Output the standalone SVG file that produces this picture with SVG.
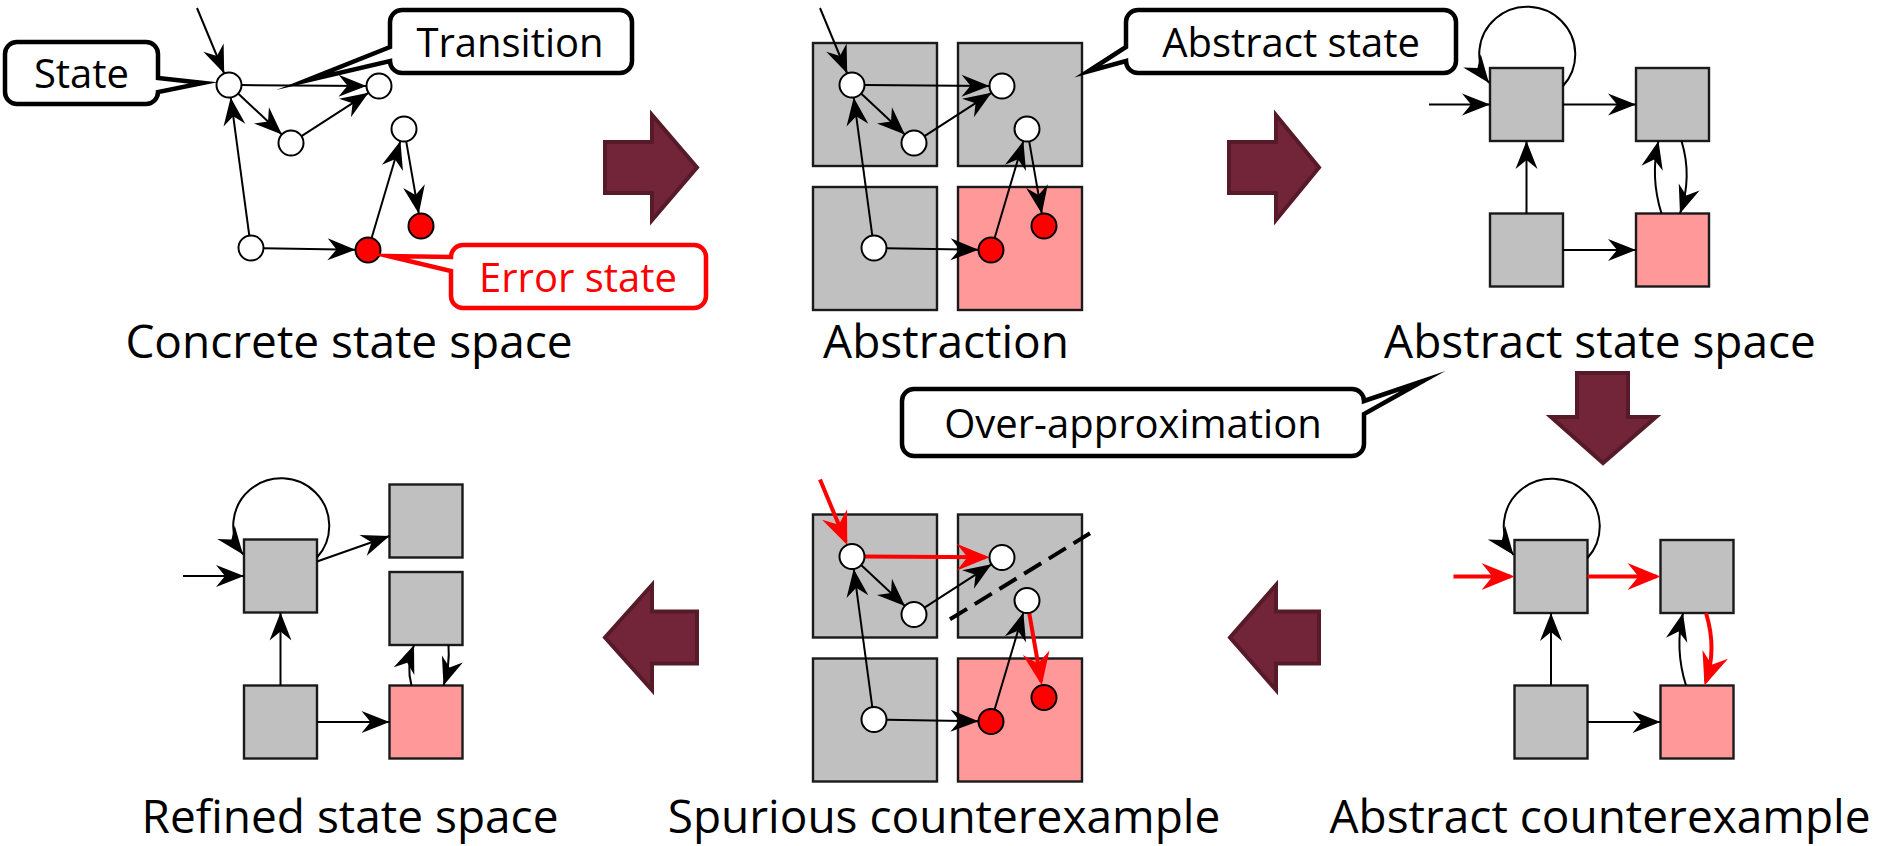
<svg xmlns="http://www.w3.org/2000/svg" width="1897" height="846" viewBox="0 0 1897 846">
  <defs>
    <marker id="ah" viewBox="-30 -13 32 26" refX="0" refY="0" markerWidth="32" markerHeight="26" markerUnits="userSpaceOnUse" orient="auto">
      <path d="M0,0 L-28,-11 L-19,0 L-28,11 Z" fill="#000"/>
    </marker>
    <marker id="ahr" viewBox="-36 -16 42 32" refX="-4" refY="0" markerWidth="42" markerHeight="32" markerUnits="userSpaceOnUse" orient="auto">
      <path d="M0,0 L-33,-13.5 L-22,0 L-33,13.5 Z" fill="#f00"/>
    </marker>
    <style>
      .lbl { font-family: "Open Sans", "Liberation Sans", sans-serif; font-size: 46px; fill: #000; text-anchor: middle; }
      .ctext { font-family: "Open Sans", "Liberation Sans", sans-serif; font-size: 40px; fill: #000; text-anchor: middle; }
      .callout { fill: #fff; stroke: #000; stroke-width: 4.5; stroke-linejoin: miter; stroke-miterlimit: 20; }
      .callout-err { fill: #fff; stroke: #f00; stroke-width: 4.5; stroke-linejoin: miter; stroke-miterlimit: 20; }
      .box { fill: #c0c0c0; stroke: #1a1a1a; stroke-width: 2.4; }
      .err { fill: #ff9999; stroke: #1a1a1a; stroke-width: 2.4; }
      .st { fill: #fff; stroke: #000; stroke-width: 2; }
      .st-err { fill: #f00; stroke: #000; stroke-width: 2; }
      .e { fill: none; stroke: #000; stroke-width: 2; marker-end: url(#ah); }
      .er { fill: none; stroke: #f00; stroke-width: 4; marker-end: url(#ahr); }
      .cut { fill: none; stroke: #000; stroke-width: 4; stroke-dasharray: 20 9; }
      .step { fill: #722438; stroke: #561a29; stroke-width: 4; }
    </style>
  </defs>
  <rect width="1897" height="846" fill="#fff"/>

  <!-- Step arrows between the stages -->
  <g id="steps">
    <polygon class="step" points="605,142 652,142 652,115 697,167.5 652,220 652,193 605,193"/>
    <polygon class="step" points="1229,142 1276,142 1276,115 1319,167.5 1276,220 1276,193 1229,193"/>
    <polygon class="step" points="1577,373 1628,373 1628,417 1656,417 1603,463 1551,417 1577,417"/>
    <polygon class="step" points="1319,611.5 1276,611.5 1276,585 1230,637.5 1276,690 1276,663.5 1319,663.5"/>
    <polygon class="step" points="697,611.5 652,611.5 652,585 605,637.5 652,690 652,663.5 697,663.5"/>
  </g>

  <!-- Concrete state space -->
  <g id="concrete">
    <g id="concrete-edges">
      <path class="e" d="M197,8 L224.2,73.5"/>
      <path class="e" d="M241.5,85.1 L366.5,85.9"/>
      <path class="e" d="M238.1,93.5 L281.9,134.5"/>
      <path class="e" d="M301.5,136.2 L368.5,92.8"/>
      <path class="e" d="M249.3,235.6 L230.7,97.4"/>
      <path class="e" d="M263.5,248.2 L355.5,249.8"/>
      <path class="e" d="M371.6,238 L400.4,141"/>
      <path class="e" d="M406.2,141.3 L418.8,213.7"/>
    </g>
    <g id="c-a"><circle class="st" cx="229" cy="85" r="12.5"/></g>
    <g id="c-b"><circle class="st" cx="379" cy="86" r="12.5"/></g>
    <g id="c-c"><circle class="st" cx="291" cy="143" r="12.5"/></g>
    <g id="c-d"><circle class="st" cx="404" cy="129" r="12.5"/></g>
    <g id="c-e"><circle class="st-err" cx="421" cy="226" r="12.5"/></g>
    <g id="c-f"><circle class="st-err" cx="368" cy="250" r="12.5"/></g>
    <g id="c-g"><circle class="st" cx="251" cy="248" r="12.5"/></g>
  </g>

  <!-- Abstraction: states grouped into abstract states -->
  <g id="abstraction" transform="translate(623,0)">
    <g id="a-box-tl"><rect class="box" x="190" y="43" width="124" height="123"/></g>
    <g id="a-box-tr"><rect class="box" x="335" y="43" width="124" height="123"/></g>
    <g id="a-box-bl"><rect class="box" x="190" y="187" width="124" height="123"/></g>
    <g id="a-box-br"><rect class="err" x="335" y="187" width="124" height="123"/></g>
    <g id="abstraction-edges">
      <path class="e" d="M197,8 L224.2,73.5"/>
      <path class="e" d="M241.5,85.1 L366.5,85.9"/>
      <path class="e" d="M238.1,93.5 L281.9,134.5"/>
      <path class="e" d="M301.5,136.2 L368.5,92.8"/>
      <path class="e" d="M249.3,235.6 L230.7,97.4"/>
      <path class="e" d="M263.5,248.2 L355.5,249.8"/>
      <path class="e" d="M371.6,238 L400.4,141"/>
      <path class="e" d="M406.2,141.3 L418.8,213.7"/>
    </g>
    <g id="a-a"><circle class="st" cx="229" cy="85" r="12.5"/></g>
    <g id="a-b"><circle class="st" cx="379" cy="86" r="12.5"/></g>
    <g id="a-c"><circle class="st" cx="291" cy="143" r="12.5"/></g>
    <g id="a-d"><circle class="st" cx="404" cy="129" r="12.5"/></g>
    <g id="a-e"><circle class="st-err" cx="421" cy="226" r="12.5"/></g>
    <g id="a-f"><circle class="st-err" cx="368" cy="250" r="12.5"/></g>
    <g id="a-g"><circle class="st" cx="251" cy="248" r="12.5"/></g>
  </g>

  <!-- Abstract state space -->
  <g id="abstract">
    <g id="s-tl"><rect class="box" x="1490" y="68" width="73" height="73"/></g>
    <g id="s-tr"><rect class="box" x="1636" y="68" width="73" height="73"/></g>
    <g id="s-bl"><rect class="box" x="1490" y="213.5" width="73" height="73"/></g>
    <g id="s-br"><rect class="err" x="1636" y="213.5" width="73" height="73"/></g>
    <g id="abstract-edges">
      <path class="e" d="M1429,104.5 L1490,104.5"/>
      <path class="e" d="M1563,104.5 L1636,104.5"/>
      <path class="e" d="M1563,250 L1636,250"/>
      <path class="e" d="M1526.5,213.5 L1526.5,141"/>
      <path class="e" d="M1563,86 A48,47.5 0 1 0 1489,83"/>
      <path class="e" d="M1661.5,213.5 Q1650,177 1658.5,141"/>
      <path class="e" d="M1681.5,141 Q1692.6,177 1680,213.5"/>
    </g>
  </g>

  <!-- Abstract counterexample -->
  <g id="abstract-cex" transform="translate(24.5,472)">
    <g id="x-tl"><rect class="box" x="1490" y="68" width="73" height="73"/></g>
    <g id="x-tr"><rect class="box" x="1636" y="68" width="73" height="73"/></g>
    <g id="x-bl"><rect class="box" x="1490" y="213.5" width="73" height="73"/></g>
    <g id="x-br"><rect class="err" x="1636" y="213.5" width="73" height="73"/></g>
    <g id="abstract-cex-edges">
      <path class="er" d="M1429,104.5 L1486,104.5"/>
      <path class="er" d="M1563,104.5 L1632,104.5"/>
      <path class="e" d="M1563,250 L1636,250"/>
      <path class="e" d="M1526.5,213.5 L1526.5,141"/>
      <path class="e" d="M1563,86 A48,47.5 0 1 0 1489,83"/>
      <path class="e" d="M1661.5,213.5 Q1650,177 1658.5,141"/>
      <path class="er" d="M1681.5,141 Q1692.6,177 1681.3,209.7"/>
    </g>
  </g>

  <!-- Spurious counterexample -->
  <g id="spurious" transform="translate(623,471.5)">
    <g id="p-box-tl"><rect class="box" x="190" y="43" width="124" height="123"/></g>
    <g id="p-box-tr"><rect class="box" x="335" y="43" width="124" height="123"/></g>
    <g id="p-box-bl"><rect class="box" x="190" y="187" width="124" height="123"/></g>
    <g id="p-box-br"><rect class="err" x="335" y="187" width="124" height="123"/></g>
    <g id="spurious-edges">
      <path class="cut" d="M327,147.8 L467,61.8"/>
      <path class="er" d="M197,8 L222.7,69.8"/>
      <path class="er" d="M241.5,85.1 L362.5,85.8"/>
      <path class="e" d="M238.1,93.5 L281.9,134.5"/>
      <path class="e" d="M301.5,136.2 L368.5,92.8"/>
      <path class="e" d="M249.3,235.6 L230.7,97.4"/>
      <path class="e" d="M263.5,248.2 L355.5,249.8"/>
      <path class="e" d="M371.6,238 L400.4,141"/>
      <path class="er" d="M406.2,141.3 L418.1,209.8"/>
    </g>
    <g id="p-a"><circle class="st" cx="229" cy="85" r="12.5"/></g>
    <g id="p-b"><circle class="st" cx="379" cy="86" r="12.5"/></g>
    <g id="p-c"><circle class="st" cx="291" cy="143" r="12.5"/></g>
    <g id="p-d"><circle class="st" cx="404" cy="129" r="12.5"/></g>
    <g id="p-e"><circle class="st-err" cx="421" cy="226" r="12.5"/></g>
    <g id="p-f"><circle class="st-err" cx="368" cy="250" r="12.5"/></g>
    <g id="p-g"><circle class="st" cx="251" cy="248" r="12.5"/></g>
  </g>

  <!-- Refined state space -->
  <g id="refined">
    <g id="r-tl"><rect class="box" x="244" y="539.5" width="73" height="73"/></g>
    <g id="r-tr"><rect class="box" x="389.5" y="484.5" width="73" height="73"/></g>
    <g id="r-mr"><rect class="box" x="389.5" y="572" width="73" height="73"/></g>
    <g id="r-bl"><rect class="box" x="244" y="685.5" width="73" height="73"/></g>
    <g id="r-br"><rect class="err" x="389.5" y="685.5" width="73" height="73"/></g>
    <g id="refined-edges">
      <path class="e" d="M183,576 L244,576"/>
      <path class="e" d="M317,557.5 A48,47.5 0 1 0 243,554.5"/>
      <path class="e" d="M317,561.5 L389.5,536"/>
      <path class="e" d="M280.5,685.5 L280.5,612.5"/>
      <path class="e" d="M317,722 L389.5,722"/>
      <path class="e" d="M411.5,685.5 Q406,666 414,645"/>
      <path class="e" d="M448.5,645 Q450,666 443.5,685.5"/>
    </g>
  </g>

  <!-- Callouts -->
  <g id="callout-state">
    <path class="callout" d="M17,42 H146 A12,12 0 0 1 158,54 V78 L203,83 L158,92 A12,12 0 0 1 146,104 H17 A12,12 0 0 1 5,92 V54 A12,12 0 0 1 17,42 Z"/>
    <text class="ctext" x="81.5" y="88">State</text>
  </g>
  <g id="callout-transition">
    <path class="callout" d="M402,10 H620 A12,12 0 0 1 632,22 V61 A12,12 0 0 1 620,73 H402 A12,12 0 0 1 390,61 L305,81 L390,47 V22 A12,12 0 0 1 402,10 Z"/>
    <text class="ctext" x="510" y="56.5">Transition</text>
  </g>
  <g id="callout-error">
    <path class="callout-err" d="M463,245 H694 A12,12 0 0 1 706,257 V296 A12,12 0 0 1 694,308 H463 A12,12 0 0 1 451,296 V271 L388,256 L451,257 A12,12 0 0 1 463,245 Z"/>
    <text class="ctext" x="578" y="291.5" style="fill:#f00">Error state</text>
  </g>
  <g id="callout-abstract-state">
    <path class="callout" d="M1138,10 H1444 A12,12 0 0 1 1456,22 V61 A12,12 0 0 1 1444,73 H1138 A12,12 0 0 1 1126,61 L1088,71.5 L1126,47 V22 A12,12 0 0 1 1138,10 Z"/>
    <text class="ctext" x="1291" y="56.5">Abstract state</text>
  </g>
  <g id="callout-over">
    <path class="callout" d="M914,389 H1352 A12,12 0 0 1 1364,401 L1423,381 L1364,414 V444 A12,12 0 0 1 1352,456 H914 A12,12 0 0 1 902,444 V401 A12,12 0 0 1 914,389 Z"/>
    <text class="ctext" x="1133" y="438">Over-approximation</text>
  </g>

  <!-- Stage labels -->
  <g id="labels">
    <text class="lbl" x="349" y="358">Concrete state space</text>
    <text class="lbl" x="946" y="358">Abstraction</text>
    <text class="lbl" x="1600" y="358">Abstract state space</text>
    <text class="lbl" x="350" y="833">Refined state space</text>
    <text class="lbl" x="944" y="833">Spurious counterexample</text>
    <text class="lbl" x="1600" y="833">Abstract counterexample</text>
  </g>
</svg>
